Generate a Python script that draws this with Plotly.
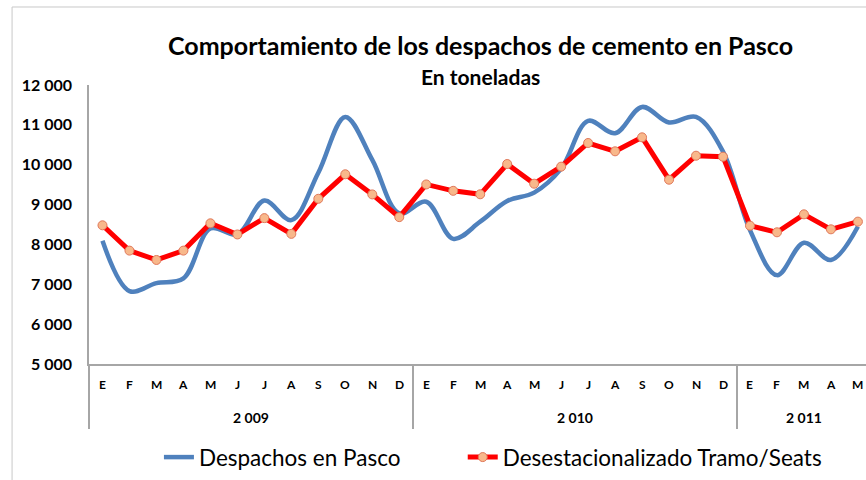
import plotly.graph_objects as go

months = ["E", "F", "M", "A", "M", "J", "J", "A", "S", "O", "N", "D",
          "E", "F", "M", "A", "M", "J", "J", "A", "S", "O", "N", "D",
          "E", "F", "M", "A", "M"]
years = ["2 009", "2 010", "2 011"]
year_months = [12, 12, 5]

despachos = [8090, 6830, 7030, 7150, 8400, 8250, 9100, 8610, 9800, 11200, 10120, 8780,
             9070, 8140, 8570, 9090, 9300, 9900, 11100, 10790, 11450, 11060, 11200, 10330,
             8360, 7230, 8040, 7610, 8450]
desest = [8480, 7845, 7610, 7845, 8530, 8250, 8660, 8265, 9145, 9760, 9255, 8685,
          9505, 9345, 9258, 10018, 9524, 9951, 10545, 10336, 10687, 9624, 10226, 10201,
          8470, 8304, 8755, 8379, 8572]

ytick_vals = [5000, 6000, 7000, 8000, 9000, 10000, 11000, 12000]
ytick_text = ["5 000", "6 000", "7 000", "8 000", "9 000", "10 000", "11 000", "12 000"]

title = "Comportamiento de los despachos de cemento en Pasco"
subtitle = "En toneladas"
name_a = "Despachos en Pasco"
name_b = "Desestacionalizado Tramo/Seats"

x = list(range(len(months)))

# group boundaries and centres
bounds = [-0.5]
centres = []
start = 0
for n in year_months:
    centres.append(start + (n - 1) / 2)
    start += n
    bounds.append(start - 0.5)

FONT = "Lato"

fig = go.Figure()
fig.add_trace(go.Scatter(
    x=x, y=despachos, name=name_a, mode="lines", legend="legend",
    line=dict(color="#4F81BD", width=4.5, shape="spline", smoothing=1.0),
))
fig.add_trace(go.Scatter(
    x=x, y=desest, name=name_b, mode="lines+markers", legend="legend2",
    line=dict(color="#FF0000", width=5),
    marker=dict(size=9, color="#F8B88B", line=dict(color="#E0785A", width=1)),
))

annotations = []
for i, m in enumerate(months):
    annotations.append(dict(x=i, y=-0.075, xref="x", yref="paper", text=m,
                            showarrow=False, font=dict(family=FONT, size=12, color="black",
                                                       weight="bold"),
                            xanchor="center", yanchor="middle"))
for c, yl in zip(centres, years):
    annotations.append(dict(x=c, y=-0.190, xref="x", yref="paper", text=yl,
                            showarrow=False, font=dict(family=FONT, size=14, color="black",
                                                       weight="bold"),
                            xanchor="center", yanchor="middle"))
annotations.append(dict(x=0.5045, y=1.143, xref="paper", yref="paper", text="<b>" + title + "</b>",
                        showarrow=False, font=dict(family=FONT, size=25, color="black"),
                        xanchor="center", yanchor="middle"))
annotations.append(dict(x=0.5045, y=1.029, xref="paper", yref="paper", text="<b>" + subtitle + "</b>",
                        showarrow=False, font=dict(family=FONT, size=21, color="black"),
                        xanchor="center", yanchor="middle"))

legend_font = dict(family=FONT, size=22.5, color="black")
fig.update_layout(
    width=866, height=480,
    margin=dict(l=89, r=0, t=85, b=116),
    paper_bgcolor="white", plot_bgcolor="white",
    font=dict(family=FONT, color="black"),
    showlegend=True,
    legend=dict(orientation="h", x=0.09, y=-0.335, xanchor="left", yanchor="middle",
                font=legend_font, bgcolor="rgba(0,0,0,0)"),
    legend2=dict(orientation="h", x=0.481, y=-0.335, xanchor="left", yanchor="middle",
                 font=legend_font, bgcolor="rgba(0,0,0,0)"),
    annotations=annotations,
    shapes=[dict(type="rect", xref="paper", yref="paper", x0=-0.099, x1=1.2, y0=-0.5, y1=1.2796,
                 line=dict(color="#C8C8C8", width=1), fillcolor="rgba(0,0,0,0)", layer="below")],
)
fig.update_xaxes(range=[-0.5, 28.3], showgrid=False, zeroline=False,
                 showline=True, linecolor="#A6A6A6", linewidth=1.5,
                 tickmode="array", tickvals=bounds, ticktext=["" for _ in bounds],
                 ticks="outside", ticklen=63, tickcolor="#A6A6A6", tickwidth=1.5)
fig.update_yaxes(range=[5000, 12000], showgrid=False, zeroline=False,
                 showline=True, linecolor="#A6A6A6", linewidth=1.5,
                 tickmode="array", tickvals=ytick_vals, ticktext=ytick_text,
                 ticks="", ticklabelstandoff=12,
                 tickfont=dict(family=FONT, size=16, color="black", weight="bold"))

fig.write_html("out.html", config={"displayModeBar": False},
               post_script="document.body.style.margin='0';")
